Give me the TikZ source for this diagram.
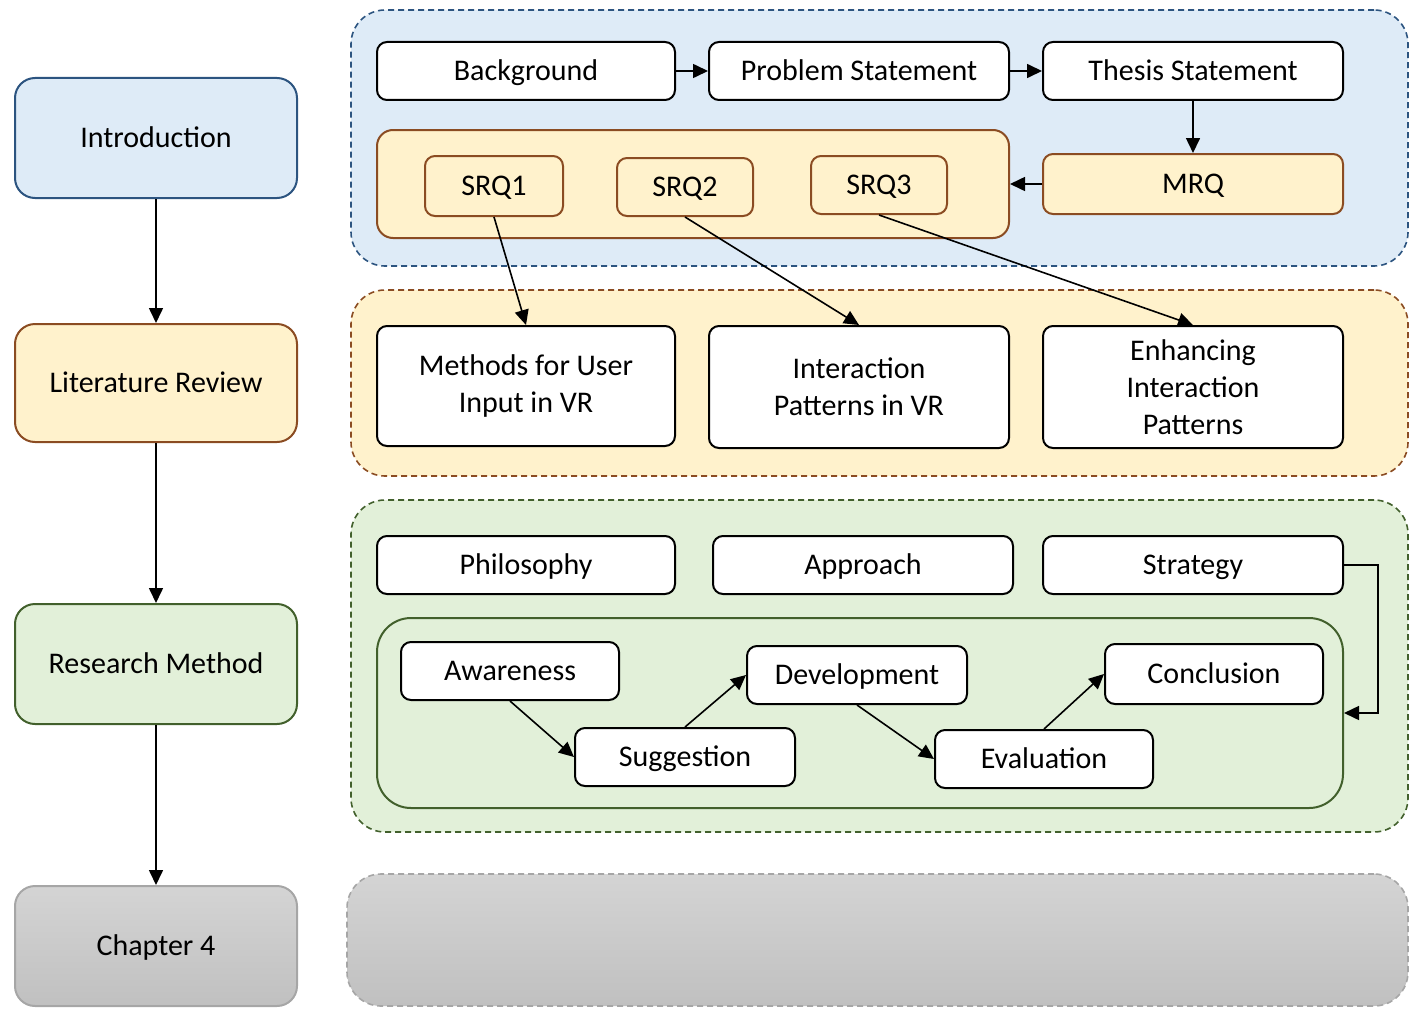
\documentclass[tikz,border=0pt]{standalone}
\usepackage{fontspec}
\setmainfont{Carlito}
\usetikzlibrary{arrows.meta}

\definecolor{bluefill}{RGB}{222,235,247}
\definecolor{blueline}{RGB}{44,84,128}
\definecolor{orangefill}{RGB}{255,242,204}
\definecolor{brownline}{RGB}{139,76,34}
\definecolor{greenfill}{RGB}{226,240,217}
\definecolor{greenline}{RGB}{66,96,44}
\definecolor{graytop}{RGB}{212,212,212}
\definecolor{graybot}{RGB}{192,192,192}
\definecolor{grayline}{RGB}{166,166,166}

\begin{document}
\begin{tikzpicture}[x=0.5pt, y=-0.5pt,
  box/.style={draw, rounded corners=5pt, line width=1pt, fill=white, inner sep=0pt,
    font=\fontsize{15}{18.5}\selectfont, align=center},
  oneline/.style={text height=12pt, text depth=2.5pt},
  wide/.style={box, oneline, minimum width=150pt, minimum height=29pt},
  tall/.style={box, minimum width=150pt, minimum height=61pt},
  cycle/.style={box, oneline, minimum width=109pt, minimum height=29pt},
  srq/.style={box, oneline, fill=orangefill, draw=brownline, minimum width=68pt, minimum height=29pt},
  chapbox/.style={box, oneline, rounded corners=10pt, minimum width=141pt, minimum height=60pt},
  group/.style={draw, dash pattern=on 3pt off 2pt, rounded corners=17pt, line width=0.8pt,
    inner sep=0pt, minimum width=528.5pt},
  arr/.style={-{Triangle[length=7.5pt,width=7pt]}, line width=0.8pt}]

\useasboundingbox (0,0) rectangle (1416,1022);

\node[group, fill=bluefill, draw=blueline, minimum height=128pt] (introgrp) at (879.5,138) {};
\node[group, fill=orangefill, draw=brownline, minimum height=93pt] (litgrp) at (879.5,383) {};
\node[group, fill=greenfill, draw=greenline, minimum height=166pt] (methgrp) at (879.5,666) {};
\node[group, top color=graytop, bottom color=graybot, draw=grayline, minimum width=530.5pt, minimum height=66pt] (chapgrp) at (877.5,940) {};

\node[chapbox, fill=bluefill, draw=blueline] (intro) at (156,138) {Introduction};
\node[chapbox, fill=orangefill, draw=brownline, minimum height=59pt] (lit) at (156,383) {Literature Review};
\node[chapbox, fill=greenfill, draw=greenline] (meth) at (156,664) {Research Method};
\node[chapbox, top color=graytop, bottom color=graybot, draw=grayline] (chap) at (156,946) {Chapter 4};

\draw[arr] (intro.south) -- (lit.north);
\draw[arr] (lit.south) -- (meth.north);
\draw[arr] (meth.south) -- (chap.north);

\node[wide, minimum width=149pt] (backgr) at (526,71) {Background};
\node[wide] (problem) at (859,71) {Problem Statement};
\node[wide] (thesis) at (1193,71) {Thesis Statement};
\node[box, fill=orangefill, draw=brownline, rounded corners=8pt, minimum width=316pt, minimum height=54pt] (srqgrp) at (693,184) {};
\node[srq, minimum width=69pt, minimum height=30pt] (srqa) at (494,186) {SRQ1};
\node[srq] (srqb) at (685,187) {SRQ2};
\node[srq] (srqc) at (879,185) {SRQ3};
\node[wide, fill=orangefill, draw=brownline, minimum height=30pt] (mrq) at (1193,184) {MRQ};

\draw[arr] (backgr.east) -- (problem.west);
\draw[arr] (problem.east) -- (thesis.west);
\draw[arr] (thesis.south) -- (mrq.north);
\draw[arr] (mrq.west) -- (srqgrp.east);

\node[tall, minimum width=149pt, minimum height=60pt] (userinput) at (526,386) {Methods for User\\Input in VR};
\node[tall] (patterns) at (859,387) {Interaction\\Patterns in VR};
\node[tall] (enhancing) at (1193,387) {Enhancing\\Interaction\\Patterns};

\draw[arr] (srqa.south) -- (userinput.north);
\draw[arr] (srqb.south) -- (patterns.north);
\draw[arr] (srqc.south) -- (enhancing.north);

\node[wide, minimum width=149pt] (philo) at (526,565) {Philosophy};
\node[wide] (approach) at (863,565) {Approach};
\node[wide] (strategy) at (1193,565) {Strategy};
\node[box, fill=greenfill, draw=greenline, rounded corners=17pt, minimum width=483pt, minimum height=95pt] (dsrgrp) at (860,713) {};

\node[cycle] (aware) at (510,671) {Awareness};
\node[cycle, minimum width=110pt] (suggest) at (685,757) {Suggestion};
\node[cycle, minimum width=110pt] (develop) at (857,675) {Development};
\node[cycle] (evaluate) at (1044,759) {Evaluation};
\node[cycle, minimum height=30pt] (conclude) at (1214,674) {Conclusion};

\draw[arr] (aware.south) -- (suggest.west);
\draw[arr] (suggest.north) -- (develop.west);
\draw[arr] (develop.south) -- (evaluate.west);
\draw[arr] (evaluate.north) -- (conclude.west);
\draw[arr] (strategy.east) -- ++(17pt,0) |- (dsrgrp.east);

\end{tikzpicture}
\end{document}
